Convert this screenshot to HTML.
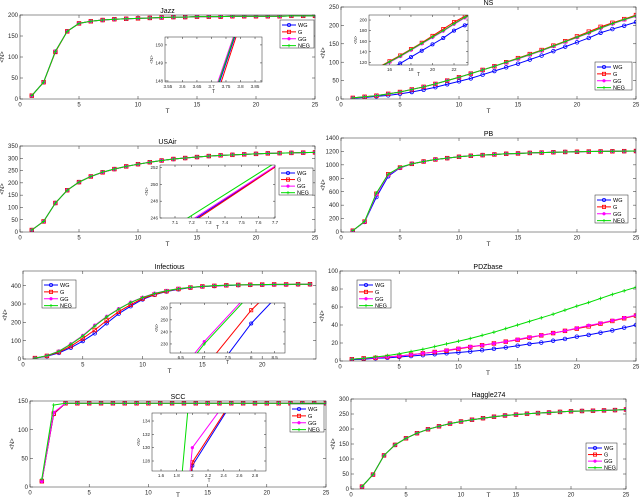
<!DOCTYPE html>
<html><head><meta charset="utf-8"><style>
html,body{margin:0;padding:0;background:#fff;width:640px;height:503px;overflow:hidden;}
svg{display:block;font-family:"Liberation Sans",sans-serif;overflow:hidden;}
</style></head><body>
<svg id="fig" width="640" height="503" viewBox="0 0 640 503" xmlns="http://www.w3.org/2000/svg"></svg>
<script>
const T25 = [1,2,3,4,5,6,7,8,9,10,11,12,13,14,15,16,17,18,19,20,21,22,23,24,25];
const T24 = [1,2,3,4,5,6,7,8,9,10,11,12,13,14,15,16,17,18,19,20,21,22,23,24];
const seriesNames = ["WG","G","GG","NEG"];
// Jazz
const jazzWG  = [8,40,113,161,180,185,188,190,191,192,193,194,195,195,196,196,196,197,197,197,197,197,198,198,198];
const jazzG   = [8,40,112,161,180,185,188,190,191,192,193,194,195,195,196,196,196,197,197,197,197,197,198,198,198];
const jazzGG  = [8,40,114,161,180,185,188,190,191,192,193,194,195,195,196,196,196,197,197,197,197,197,198,198,198];
const jazzNEG = [8,40,113.5,161,180,185,188,190,191,192,193,194,195,195,196,196,196,197,197,197,197,197,198,198,198];
// NS
const nsWG  = [2,4,7,10,14,19,25,32,40,48,56,66,76,86,96,107,118,130,142,154,166,180,190,199,209];
const nsG   = [3,6,9,14,19,26,33,41,50,59,69,79,89,100,111,122,133,145,157,170,183,196,207,217,228];
const nsGG  = [3,6,9,14,19,26,33,41,50,59,69,79,89,99,109,120,131,143,155,167,179,192,204,215,225];
const nsNEG = [3,6,9,14,19,26,33,41,50,59,69,79,89,100,110,121,132,144,156,168,180,193,205,216,226];
// USAir
const usWG  = [8,43,118,170,203,226,243,256,267,276,284,291,297,301,305,309,312,314,316,318,320,321,322,323,324];
const usG   = [8,43,118,170,203,226,242.8,256,267,276,284,291,297,301,305,309,312,314,316,318,320,321,322,323,324];
const usGG  = [8,43,118,170,203,226,243.2,256,267,276,284,291,297,301,305,309,312,314,316,318,320,321,322,323,324];
const usNEG = [8,43,118,170,203,226,243.8,256.3,267,276,284,291,297,301,305,309,312,314,316,318,320,321,322,323,324];
// PB
const pbWG  = [20,150,520,830,955,1015,1050,1080,1100,1120,1135,1145,1155,1165,1170,1178,1183,1188,1192,1195,1198,1200,1202,1204,1206];
const pbG   = [20,155,570,860,960,1015,1050,1080,1100,1120,1135,1145,1155,1165,1170,1178,1183,1188,1192,1195,1198,1200,1202,1204,1206];
const pbGG  = [20,155,560,850,960,1015,1050,1080,1100,1120,1135,1145,1155,1165,1170,1178,1183,1188,1192,1195,1198,1200,1202,1204,1206];
const pbNEG = [20,160,580,860,965,1015,1050,1080,1100,1120,1135,1145,1155,1165,1170,1178,1183,1188,1192,1195,1198,1200,1202,1204,1206];
// Infectious
const infWG  = [4,15,33,62,98,140,195,247,288,325,350,368,380,389,395,398,401,403,404,405,406,406,407,407];
const infG   = [5,17,38,70,112,158,210,258,296,330,352,370,382,390,396,399,402,404,405,406,407,407,408,408];
const infGG  = [5,18,43,82,128,184,232,274,309,336,358,373,384,391,396,400,402,404,405,406,407,407,408,408];
const infNEG = [5,18,42,80,125,180,230,272,308,335,357,372,383,391,396,400,402,404,405,406,407,407,408,408];
// PDZbase
const pdzWG  = [1.5,2,3,3.5,4.5,5.5,6.5,7.5,8.5,9.5,10.5,12,13.5,15,17,19,20.5,22.5,24.5,27,29,31.5,34,37,40];
const pdzG   = [2,3,3.5,4.5,5.5,7,8.5,10,11.5,13.5,15.5,17.5,19.5,21.5,23.5,26,28.5,31,33.5,36,38.5,41.5,44.5,47.5,50.5];
const pdzGG  = [2,3,3.5,4.5,5.5,7,8.5,10,12,14,16,17.5,19.5,21.5,24,26.5,28.5,31,33.5,36.5,39.5,42,45,48,51];
const pdzNEG = [2,3,4.5,6,8,10.5,13,16,19,22,25,28.5,32,36,40,44,48,52,56.5,61,65,69.5,74,78,82];
// SCC
const sccWG  = [10,127.3,146,146,146,146,146,146,146,146,146,146,146,146,146,146,146,146,146,146,146,146,146,146,146];
const sccG   = [10,127.8,146,146,146,146,146,146,146,146,146,146,146,146,146,146,146,146,146,146,146,146,146,146,146];
const sccGG  = [10,130,146,146,146,146,146,146,146,146,146,146,146,146,146,146,146,146,146,146,146,146,146,146,146];
const sccNEG = [14,143,146,146,146,146,146,146,146,146,146,146,146,146,146,146,146,146,146,146,146,146,146,146,146];
// Haggle274
const hagWG  = [8,48,112,147,169,186,199,209,218,225,231,236,241,245,248,251,253,255,257,259,260,261,262,263,265];
const hagG   = hagWG.slice();
const hagGG  = hagWG.slice();
const hagNEG = hagWG.slice();

const NS_ = "http://www.w3.org/2000/svg";
const svg = document.getElementById("fig");
const colors = ["#0000ff","#ff0000","#ff00ff","#00dd00"];
let clipId = 0;
function el(tag, attrs, parent){const e=document.createElementNS(NS_,tag);for(const k in attrs)e.setAttribute(k,attrs[k]);(parent||svg).appendChild(e);return e;}
function fmt(v){return String(Math.round(v*1000)/1000);}

function marker(g, k, x, y, size){
  const c=colors[k]; let m;
  if(k===0){m=el("circle",{cx:x,cy:y,r:size,fill:"none",stroke:c,"stroke-width":0.8},g);}
  else if(k===1){m=el("rect",{x:x-size,y:y-size,width:2*size,height:2*size,fill:"none",stroke:c,"stroke-width":0.8},g);}
  else if(k===2){m=el("path",{d:`M${x-size} ${y}H${x+size}M${x} ${y-size}V${y+size}M${x-size*0.7} ${y-size*0.7}L${x+size*0.7} ${y+size*0.7}M${x-size*0.7} ${y+size*0.7}L${x+size*0.7} ${y-size*0.7}`,stroke:c,"stroke-width":1.2},g);}
  else {m=el("path",{d:`M${x-size} ${y}H${x+size}M${x} ${y-size}V${y+size}`,stroke:c,"stroke-width":0.8},g);}
  
  
}

function axes(o){
  const g=el("g",{});
  
  
  const sx=v=>o.x0+(v-o.xmin)/(o.xmax-o.xmin)*(o.x1-o.x0);
  const sy=v=>o.y1-(v-o.ymin)/(o.ymax-o.ymin)*(o.y1-o.y0);
  el("rect",{x:o.x0,y:o.y0,width:o.x1-o.x0,height:o.y1-o.y0,fill:"#fff",stroke:"none"},g);
  const fs=o.fs||6;
  const tl=o.inset?2:3;
  o.xticks.forEach(v=>{const x=sx(v);
    el("path",{d:`M${x} ${o.y1}v${-tl}M${x} ${o.y0}v${tl}`,stroke:"#262626","stroke-width":0.5},g);
    const t=el("text",{x:x,y:o.y1+fs+1.5,"font-size":fs,"text-anchor":"middle",fill:"#262626"},g);t.textContent=fmt(v);
    
    });
  o.yticks.forEach(v=>{const y=sy(v);
    el("path",{d:`M${o.x0} ${y}h${tl}M${o.x1} ${y}h${-tl}`,stroke:"#262626","stroke-width":0.5},g);
    const t=el("text",{x:o.x0-2,y:y+fs*0.35,"font-size":fs,"text-anchor":"end",fill:"#262626"},g);t.textContent=fmt(v);
    
    });
  const id="c"+(clipId++);
  const cp=el("clipPath",{id:id},g); el("rect",{x:o.x0,y:o.y0,width:o.x1-o.x0,height:o.y1-o.y0},cp);
  const sg=el("g",{"clip-path":`url(#${id})`},g);
  o.series.forEach((ys,k)=>{
    const pts=o.xs.map((x,i)=>sx(x).toFixed(2)+","+sy(ys[i]).toFixed(2)).join(" ");
    const pl=el("polyline",{points:pts,fill:"none",stroke:colors[k],"stroke-width":o.lw||1},sg);
    
    
    o.xs.forEach((x,i)=>marker(sg,k,sx(x),sy(ys[i]),o.ms||1.8));
  });
  el("rect",{x:o.x0,y:o.y0,width:o.x1-o.x0,height:o.y1-o.y0,fill:"none",stroke:"#262626","stroke-width":0.5},g);
  if(o.title){const t=el("text",{x:(o.x0+o.x1)/2,y:o.y0-2,"font-size":7,"text-anchor":"middle",fill:"#000"},g);t.textContent=o.title;
    
    }
  const xly=Math.min(o.y1+fs*2+2, 497);
  const xl=el("text",{x:(o.x0+o.x1)/2,y:xly,"font-size":fs+0.5,"text-anchor":"middle",fill:"#262626"},g);xl.textContent="T";
  
  
  const yx=o.x0-(o.inset?12:16), yy=(o.y0+o.y1)/2;
  const yl=el("text",{x:yx,y:yy,"font-size":fs,"text-anchor":"middle",fill:"#262626",transform:`rotate(-90 ${yx} ${yy})`},g);yl.textContent="<N>";
  
  
  if(o.legend){const L=o.legend;
    const lg=el("g",{},g);
    
    
    el("rect",{x:L.x,y:L.y,width:L.w,height:L.h,fill:"#fff",stroke:"#262626","stroke-width":0.5},lg);
    seriesNames.forEach((n,k)=>{const y=L.y+4+k*(L.h-6)/3.2+1;
      const e=el("g",{},lg);
      
      
      el("path",{d:`M${L.x+2} ${y}h14`,stroke:colors[k],"stroke-width":1},e);
      marker(e,k,L.x+9,y,1.6);
      const t=el("text",{x:L.x+18,y:y+2,"font-size":5.5,fill:"#000"},e);t.textContent=n;});
  }
  return g;
}
const ticks=(a,b,s)=>{const r=[];for(let v=a;v<=b+1e-9;v+=s)r.push(Math.round(v*1000)/1000);return r;};
const X5=[0,5,10,15,20,25];

axes({name:"jazz-chart",x0:20,x1:315,y0:15,y1:99,xmin:0,xmax:25,ymin:0,ymax:200,xticks:X5,yticks:ticks(0,200,50),title:"Jazz",xs:T25,series:[jazzWG,jazzG,jazzGG,jazzNEG],legend:{x:280,y:20,w:34,h:28}});
axes({name:"jazz-inset",inset:true,fs:4.5,x0:165,x1:262,y0:37,y1:82,xmin:3.54,xmax:3.874,ymin:147.94,ymax:150.44,xticks:ticks(3.55,3.85,0.05),yticks:[148,149,150],xs:T25,series:[jazzWG,jazzG,jazzGG,jazzNEG],ms:1.6});
axes({name:"ns-chart",x0:341,x1:636,y0:7,y1:99,xmin:0,xmax:25,ymin:0,ymax:250,xticks:X5,yticks:ticks(0,250,50),title:"NS",xs:T25,series:[nsWG,nsG,nsGG,nsNEG],legend:{x:595,y:62,w:37,h:28}});
axes({name:"ns-inset",inset:true,fs:4.5,x0:369,x1:468,y0:15,y1:65,xmin:14.1,xmax:23.3,ymin:115,ymax:209.5,xticks:[16,18,20,22],yticks:[120,140,160,180,200],xs:T25,series:[nsWG,nsG,nsGG,nsNEG],ms:1.6});
axes({name:"usair-chart",x0:20,x1:315,y0:146,y1:232,xmin:0,xmax:25,ymin:0,ymax:350,xticks:X5,yticks:ticks(0,350,50),title:"USAir",xs:T25,series:[usWG,usG,usGG,usNEG],legend:{x:279,y:168,w:34,h:27}});
axes({name:"usair-inset",inset:true,fs:4.5,x0:160,x1:275,y0:165,y1:218,xmin:7.01,xmax:7.7,ymin:246,ymax:252.3,xticks:ticks(7.1,7.7,0.1),yticks:[246,248,250,252],xs:T25,series:[usWG,usG,usGG,usNEG],ms:1.6});
axes({name:"pb-chart",x0:341,x1:636,y0:138,y1:232,xmin:0,xmax:25,ymin:0,ymax:1400,xticks:X5,yticks:ticks(0,1400,200),title:"PB",xs:T25,series:[pbWG,pbG,pbGG,pbNEG],legend:{x:595,y:195,w:33,h:28}});
axes({name:"infectious-chart",x0:23,x1:316,y0:271,y1:359,xmin:0,xmax:24.5,ymin:0,ymax:480,xticks:[0,5,10,15,20],yticks:ticks(0,400,100),title:"Infectious",xs:T24,series:[infWG,infG,infGG,infNEG],legend:{x:42,y:280,w:34,h:28}});
axes({name:"infectious-inset",inset:true,fs:4.5,x0:170,x1:285,y0:303,y1:353,xmin:6.27,xmax:8.72,ymin:222.5,ymax:264,xticks:[6.5,7,7.5,8,8.5],yticks:[230,240,250,260],xs:T24,series:[infWG,infG,infGG,infNEG],ms:1.6});
axes({name:"pdzbase-chart",x0:340,x1:636,y0:271,y1:361,xmin:0,xmax:25,ymin:0,ymax:100,xticks:X5,yticks:ticks(0,100,20),title:"PDZbase",xs:T25,series:[pdzWG,pdzG,pdzGG,pdzNEG],legend:{x:357,y:280,w:34,h:28}});
axes({name:"scc-chart",x0:30,x1:326,y0:401,y1:487,xmin:0,xmax:25,ymin:0,ymax:150,xticks:X5,yticks:ticks(0,150,50),title:"SCC",xs:T25,series:[sccWG,sccG,sccGG,sccNEG],legend:{x:290,y:404,w:34,h:28}});
axes({name:"scc-inset",inset:true,fs:4.5,x0:152,x1:266,y0:413,y1:471,xmin:1.485,xmax:2.94,ymin:126.5,ymax:135.2,xticks:ticks(1.6,2.8,0.2),yticks:[128,130,132,134],xs:T25,series:[sccWG,sccG,sccGG,sccNEG],ms:1.6});
axes({name:"haggle274-chart",x0:351,x1:626,y0:399,y1:489,xmin:0,xmax:25,ymin:0,ymax:300,xticks:X5,yticks:ticks(0,300,50),title:"Haggle274",xs:T25,series:[hagWG,hagG,hagGG,hagNEG],legend:{x:586,y:443,w:31,h:27}});
</script>
</body></html>
